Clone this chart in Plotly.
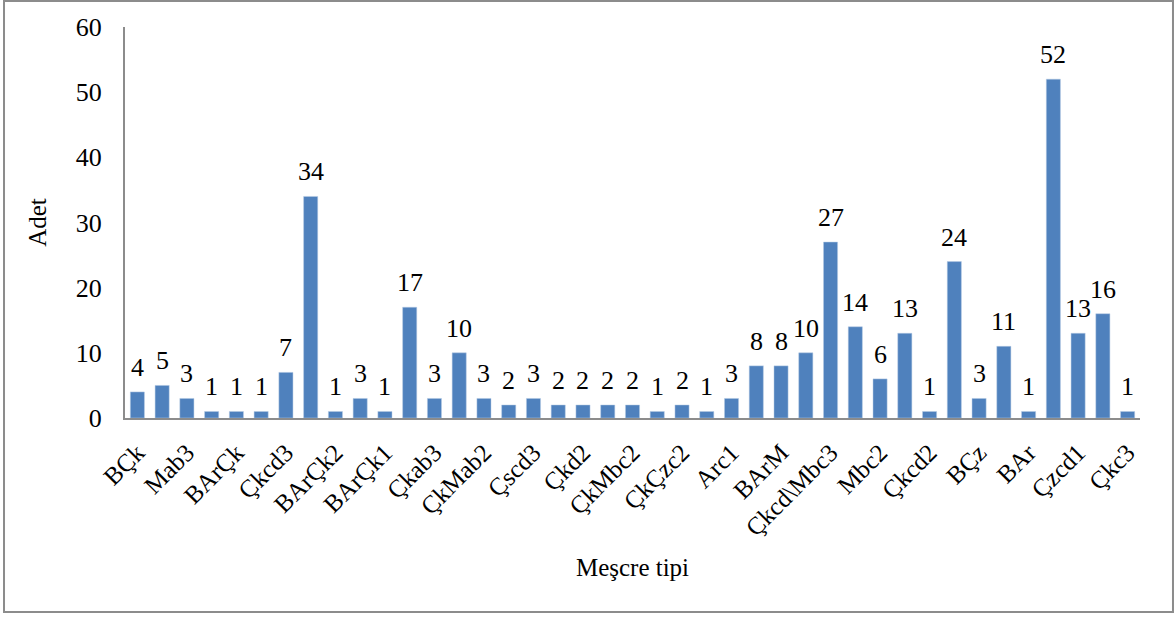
import plotly.graph_objects as go

values = [4, 5, 3, 1, 1, 1, 7, 34, 1, 3, 1, 17, 3, 10, 3, 2, 3, 2, 2, 2, 2,
          1, 2, 1, 3, 8, 8, 10, 27, 14, 6, 13, 1, 24, 3, 11, 1, 52, 13, 16, 1]
tick_labels = ["BÇk", "Mab3", "BArÇk", "Çkcd3", "BArÇk2", "BArÇk1", "Çkab3",
               "ÇkMab2", "Çscd3", "Çkd2", "ÇkMbc2", "ÇkÇzc2", "Arc1", "BArM",
               "Çkcd\\Mbc3", "Mbc2", "Çkcd2", "BÇz", "BAr", "Çzcd1", "Çkc3"]
y_ticks = [0, 10, 20, 30, 40, 50, 60]

x = list(range(len(values)))
tick_positions = x[::2]

FONT = "Liberation Serif, Times New Roman, serif"

fig = go.Figure(go.Bar(
    x=x, y=values,
    marker=dict(color="#4F81BD", line=dict(color="#B9CDE5", width=0.5)),
    width=0.57,
    hoverinfo="x+y",
))

annotations = [
    dict(x=xi, y=v, text=str(v), showarrow=False, xref="x", yref="y",
         yanchor="bottom", yshift=8,
         font=dict(family=FONT, size=26, color="black"))
    for xi, v in zip(x, values)
]

fig.update_layout(
    width=1176, height=617,
    margin=dict(l=125, r=36, t=27, b=199),
    plot_bgcolor="white", paper_bgcolor="white",
    font=dict(family=FONT, size=25, color="black"),
    showlegend=False,
    annotations=annotations,
    xaxis=dict(
        range=[-0.5, len(values) - 0.5],
        tickmode="array", tickvals=tick_positions, ticktext=tick_labels,
        tickangle=-45, showline=True, linecolor="#8C8C8C", linewidth=2,
        ticks="", showgrid=False, zeroline=False, automargin=False,
        tickfont=dict(family=FONT, size=25), ticklabelstandoff=8,
        title=dict(text="Meşcre tipi", font=dict(family=FONT, size=25), standoff=18),
    ),
    yaxis=dict(
        range=[0, 60], tickmode="array", tickvals=y_ticks,
        showline=True, linecolor="#8C8C8C", linewidth=2,
        ticks="", showgrid=False, zeroline=False, automargin=False,
        tickfont=dict(family=FONT, size=26), ticklabelstandoff=16,
        title=dict(text="Adet", font=dict(family=FONT, size=25), standoff=22),
    ),
    shapes=[dict(type="rect", xref="paper", yref="paper",
                 x0=-0.1192, x1=1.0325, y0=-0.496, y1=1.0665,
                 line=dict(color="#8C8C8C", width=2), layer="below")],
)

fig.write_html("out.html", config={"displayModeBar": False},
               post_script="document.body.style.margin='0';")
